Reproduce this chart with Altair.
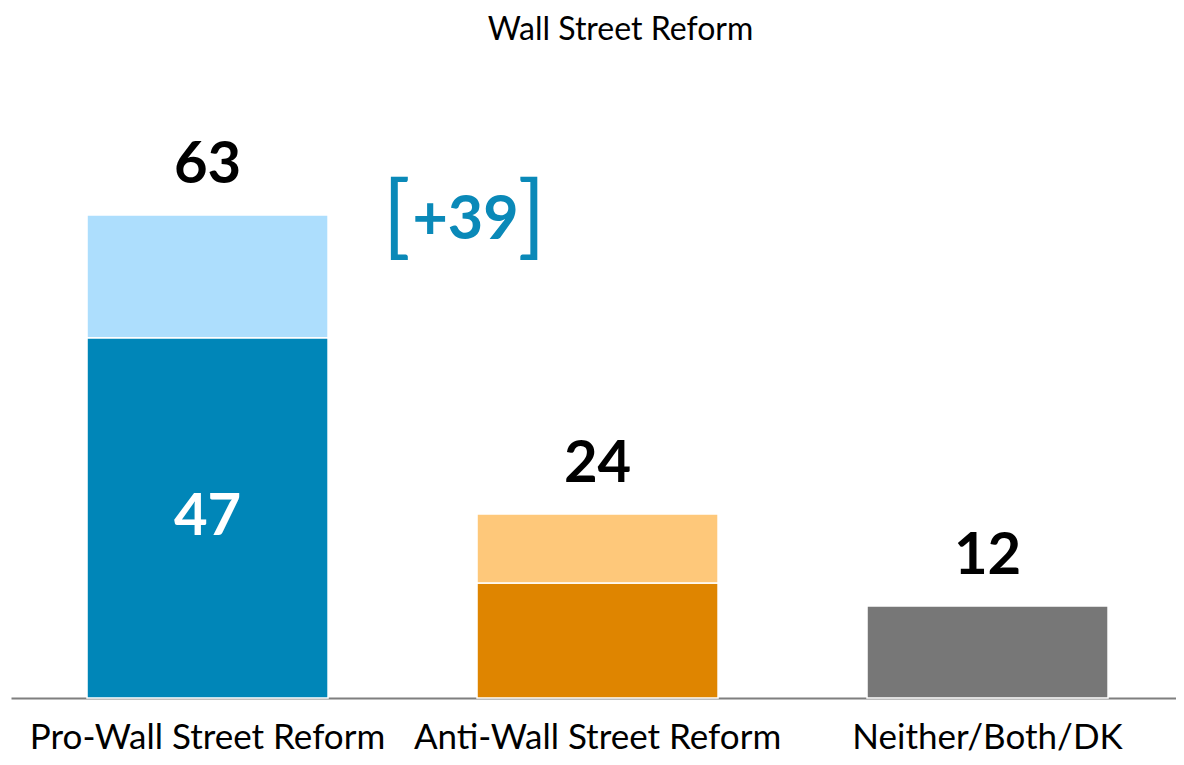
import altair as alt
import pandas as pd

categories = ["Pro-Wall Street Reform", "Anti-Wall Street Reform", "Neither/Both/DK"]
strong = [47, 15, 12]
total = [63, 24, 12]
inner_labels = ["47", "", ""]
dark_colors = ["#0086B8", "#DF8500", "#777777"]
light_colors = ["#ADDEFD", "#FEC87A", "#BBBBBB"]
gap_label = "+39"
title_text = "Wall Street Reform"

FONT = "Lato"

rows = []
for i, c in enumerate(categories):
    rows.append({"cat": c, "seg": c + "|dark", "start": 0, "end": strong[i]})
    if total[i] > strong[i]:
        rows.append({"cat": c, "seg": c + "|light", "start": strong[i], "end": total[i]})
bars_df = pd.DataFrame(rows)

lab_df = pd.DataFrame({"cat": categories, "total": total, "strong": strong,
                       "inner": inner_labels, "mid": [s / 2 for s in strong]})
ann_df = pd.DataFrame({"cat": [categories[0]], "total": [total[0]], "txt": [gap_label]})

seg_domain = [c + "|dark" for c in categories] + [c + "|light" for c in categories]
seg_range = dark_colors + light_colors

x_enc = alt.X("cat:N", sort=categories, title=None,
              scale=alt.Scale(paddingInner=0.382, paddingOuter=0.1846, align=0.528),
              axis=alt.Axis(labelAngle=0, labelFont=FONT, labelFontSize=35,
                            labelColor="#000000", labelPadding=22, ticks=False,
                            domainColor="#7F7F7F", domainWidth=2, labelOverlap=False,
                            labelLimit=0, labelBound=False, labelFlush=False))
y_scale = alt.Scale(domain=[0, 63], nice=False, zero=True)

bars = alt.Chart(bars_df).mark_bar(stroke="white", strokeWidth=1.5).encode(
    x=x_enc,
    y=alt.Y("start:Q", scale=y_scale, axis=None),
    y2="end:Q",
    color=alt.Color("seg:N", scale=alt.Scale(domain=seg_domain, range=seg_range), legend=None),
)

top_labels = alt.Chart(lab_df).mark_text(
    font=FONT, fontSize=58, fontWeight="bold", color="black", baseline="bottom", dy=-20
).encode(
    x=alt.X("cat:N", sort=categories),
    y=alt.Y("total:Q", scale=y_scale),
    text="total:Q",
)

inner = alt.Chart(lab_df).mark_text(
    font=FONT, fontSize=58, fontWeight="bold", color="white", baseline="middle"
).encode(
    x=alt.X("cat:N", sort=categories),
    y=alt.Y("mid:Q", scale=y_scale),
    text="inner:N",
)

gap = alt.Chart(ann_df).mark_text(
    font=FONT, fontSize=61, fontWeight="bold", color="#0A89B8", baseline="middle", dx=258, dy=6
).encode(
    x=alt.X("cat:N", sort=categories),
    y=alt.Y("total:Q", scale=y_scale),
    text="txt:N",
)
lb = alt.Chart(ann_df).mark_text(
    font=FONT, fontSize=92, fontWeight="normal", color="#0A89B8", baseline="middle", dx=189, dy=4
).encode(
    x=alt.X("cat:N", sort=categories),
    y=alt.Y("total:Q", scale=y_scale),
    text=alt.value("["),
)
rb = alt.Chart(ann_df).mark_text(
    font=FONT, fontSize=92, fontWeight="normal", color="#0A89B8", baseline="middle", dx=324, dy=4
).encode(
    x=alt.X("cat:N", sort=categories),
    y=alt.Y("total:Q", scale=y_scale),
    text=alt.value("]"),
)

chart = alt.layer(bars, top_labels, inner, gap, lb, rb).properties(
    width=1165, height=483,
    title=alt.TitleParams(title_text, font=FONT, fontSize=32, fontWeight="normal",
                          color="black", anchor="middle", offset=90, dx=27),
    autosize=alt.AutoSizeParams(type="none"),
    padding={"left": 3, "top": 207, "right": 0, "bottom": 59},
).configure_view(stroke=None)

chart.save("out.html", embed_options={"renderer": "svg", "actions": False})
